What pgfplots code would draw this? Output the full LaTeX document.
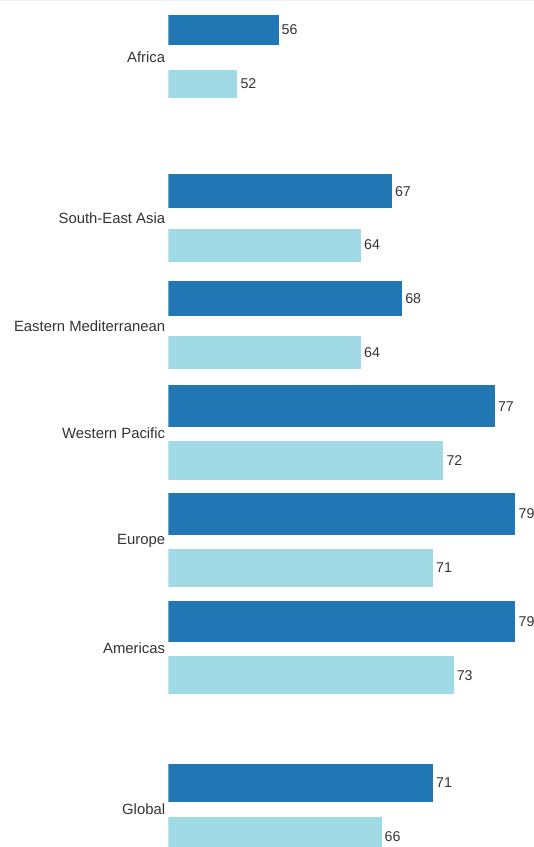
\documentclass[border=0pt]{standalone}
\usepackage{pgfplots}
\pgfplotsset{compat=1.18}
\usepackage{fontspec}
\setmainfont{Liberation Sans}
\definecolor{darkb}{HTML}{2077B4}
\definecolor{lightb}{HTML}{9FDAE5}
\definecolor{txt}{HTML}{333333}
\definecolor{topline}{HTML}{EDF2F9}
% #1 dark y, #2 dark value, #3 light y, #4 light value, #5 dark width, #6 light width
\newcommand{\grp}[6]{%
  \addplot[xbar, bar width=#5, bar shift=0pt, fill=darkb, draw=none] coordinates {(#2,#1)};
  \addplot[xbar, bar width=#6, bar shift=0pt, fill=lightb, draw=none] coordinates {(#4,#3)};
}
\begin{document}
\begin{tikzpicture}
\begin{axis}[
  at={(168.3pt,0pt)}, anchor=south west,
  scale only axis, width=365.7pt, height=847pt,
  xmin=45.3, xmax=80.8, ymin=-0.530, ymax=7.349,
  y dir=reverse,
  axis line style={draw=none},
  major tick length=0pt,
  xtick=\empty,
  ytick={0,1.5,2.5,3.5,4.5,5.5,7},
  yticklabels={Africa,South-East Asia,Eastern Mediterranean,Western Pacific,Europe,Americas,Global},
  yticklabel style={anchor=east, inner sep=0pt, xshift=-3pt, text=txt, font=\fontsize{14.85pt}{17pt}\selectfont},
  point meta=x,
  nodes near coords,
  /pgf/number format/assume math mode=true,
  every node near coord/.append style={anchor=west, inner sep=0pt, xshift=3pt, text=txt, font=\fontsize{14.2pt}{17pt}\selectfont},
  clip=true,
]
\grp{-0.25}{56}{0.25}{52}{0.279}{0.260}
\grp{1.25}{67}{1.75}{64}{0.316}{0.307}
\grp{2.25}{68}{2.75}{64}{0.326}{0.307}
\grp{3.25}{77}{3.75}{72}{0.391}{0.363}
\grp{4.25}{79}{4.75}{71}{0.391}{0.353}
\grp{5.25}{79}{5.75}{73}{0.381}{0.353}
\grp{6.75}{71}{7.25}{66}{0.353}{0.353}
\end{axis}
\fill[topline] (0pt,845.5pt) rectangle (534pt,847pt);
\pgfresetboundingbox
\path[use as bounding box] (0pt,0pt) rectangle (534pt,847pt);
\end{tikzpicture}
\end{document}
